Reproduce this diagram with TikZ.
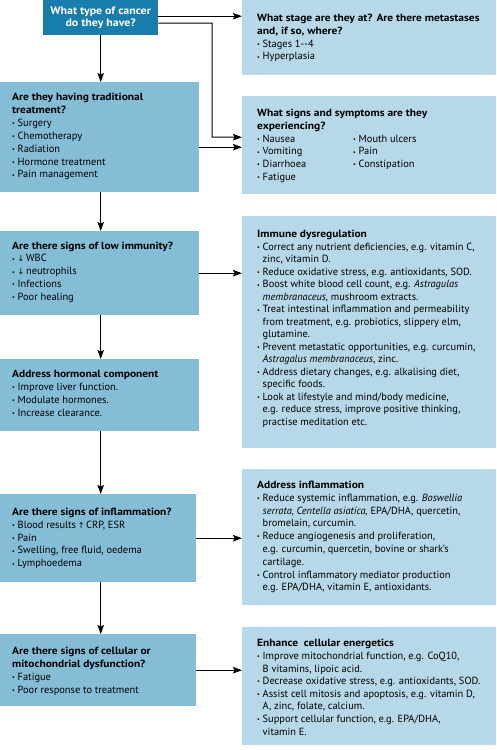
\documentclass[tikz,border=0pt]{standalone}
\usepackage{fontspec}
\setmainfont{PT Sans}[BoldFeatures={FakeStretch=1.1}]
\newfontfamily\arrfont{DejaVu Sans}
\usetikzlibrary{arrows.meta}
\definecolor{topblue}{RGB}{24,124,172}
\definecolor{leftblue}{RGB}{133,189,214}
\definecolor{rightblue}{RGB}{183,216,232}
\newcommand{\bu}{\makebox[5.5pt][l]{\raisebox{0.15ex}{\fontsize{6}{6}\selectfont\textbullet}}}
\newcommand{\ind}{\hspace*{5.5pt}}
\newcommand{\dn}{{\arrfont\fontsize{8}{8}\selectfont ↓}}
\newcommand{\up}{{\arrfont\fontsize{8}{8}\selectfont ↑}}
% width, height, left pad, first baseline, text, baselineskip
\newcommand{\pbox}[6]{\parbox[c][#2][t]{#1}{\fontsize{10.4}{#6}\selectfont\leftskip=#3\relax\rightskip=0pt plus 1fil\relax\parindent=0pt\vspace*{\dimexpr#4-8pt\relax}\rule{0pt}{8pt}#5}}
\begin{document}
\begin{tikzpicture}[x=1pt,y=-1pt,
  panel/.style={inner sep=0pt, anchor=north west},
  lpanel/.style={panel, fill=leftblue},
  rpanel/.style={panel, fill=rightblue},
  arr/.style={line width=1pt, -{Stealth[length=9pt,width=6.5pt,inset=1.5pt]}}]
\useasboundingbox (0,0) rectangle (496,750);

\node[panel, fill=topblue, text=white] (t) at (43,0)
  {\parbox[c][35pt][c]{115pt}{\centering\fontsize{10.8}{12.2}\selectfont\bfseries What type of cancer\\do they have?}};

\node[lpanel] (b2) at (0,82) {\pbox{199pt}{110pt}{12pt}{18.3pt}{\textbf{Are they having traditional}\\\textbf{treatment?}\\\bu Surgery\\\bu Chemotherapy\\\bu Radiation\\\bu Hormone treatment\\\bu Pain management}{12.9pt}};

\node[lpanel] (b3) at (0,231) {\pbox{199pt}{84pt}{12pt}{17.8pt}{\textbf{Are there signs of low immunity?}\\\bu\dn\,WBC\\\bu\dn\,neutrophils\\\bu Infections\\\bu Poor healing}{12.9pt}};

\node[lpanel] (b4) at (0,359) {\pbox{199pt}{72pt}{12pt}{18.6pt}{\textbf{Address hormonal component}\\\bu Improve liver function.\\\bu Modulate hormones.\\\bu Increase clearance.}{12.9pt}};

\node[lpanel] (b5) at (0,494) {\pbox{196pt}{88pt}{12pt}{21pt}{\textbf{Are there signs of inflammation?}\\\bu Blood results\,\up\,CRP, ESR\\\bu Pain\\\bu Swelling, free fluid, oedema\\\bu Lymphoedema}{12.9pt}};

\node[lpanel] (b6) at (0,634) {\pbox{196pt}{72pt}{12pt}{20.3pt}{\textbf{Are there signs of cellular or}\\\textbf{mitochondrial dysfunction?}\\\bu Fatigue\\\bu Poor response to treatment}{12.9pt}};

\node[rpanel] (r1) at (242,0) {\pbox{254pt}{75pt}{15pt}{21.6pt}{\textbf{What stage are they at? Are there metastases}\\\textbf{and, if so, where?}\\\bu Stages 1-{}-4\\\bu Hyperplasia}{12.7pt}};

\node[rpanel] (r2) at (242,96) {\pbox{254pt}{98pt}{15pt}{20.6pt}{\textbf{What signs and symptoms are they}\\\textbf{experiencing?}\\\makebox[96pt][l]{\bu Nausea}\bu Mouth ulcers\\\makebox[96pt][l]{\bu Vomiting}\bu Pain\\\makebox[96pt][l]{\bu Diarrhoea}\bu Constipation\\\bu Fatigue}{12.7pt}};

\node[rpanel] (r3) at (242,216) {\pbox{254pt}{232pt}{15pt}{21.6pt}{\textbf{Immune dysregulation}\\
\bu Correct any nutrient deficiencies, e.g. vitamin C,\\
\ind zinc, vitamin D.\\
\bu Reduce oxidative stress, e.g. antioxidants, SOD.\\
\bu Boost white blood cell count, e.g. \textit{Astragulas}\\
\ind\textit{membranaceus,} mushroom extracts.\\
\bu Treat intestinal inflammation and permeability\\
\ind from treatment, e.g. probiotics, slippery elm,\\
\ind glutamine.\\
\bu Prevent metastatic opportunities, e.g. curcumin,\\
\ind\textit{Astragalus membranaceus}, zinc.\\
\bu Address dietary changes, e.g. alkalising diet,\\
\ind specific foods.\\
\bu Look at lifestyle and mind/body medicine,\\
\ind e.g. reduce stress, improve positive thinking,\\
\ind practise meditation etc.}{12.5pt}};

\node[rpanel] (r4) at (242,469) {\pbox{254pt}{136pt}{15pt}{19.3pt}{\textbf{Address inflammation}\\
\bu Reduce systemic inflammation, e.g. \textit{Boswellia}\\
\ind\textit{serrata, Centella asiatica,} EPA/DHA, quercetin,\\
\ind bromelain, curcumin.\\
\bu Reduce angiogenesis and proliferation,\\
\ind e.g. curcumin, quercetin, bovine or shark’s\\
\ind cartilage.\\
\bu Control inflammatory mediator production\\
\ind e.g. EPA/DHA, vitamin E, antioxidants.}{12.8pt}};

\node[rpanel] (r5) at (242,627) {\pbox{254pt}{118pt}{15pt}{19.6pt}{\textbf{Enhance\ \ cellular energetics}\\
\bu Improve mitochondrial function, e.g. CoQ10,\\
\ind B vitamins, lipoic acid.\\
\bu Decrease oxidative stress, e.g. antioxidants, SOD.\\
\bu Assist cell mitosis and apoptosis, e.g. vitamin D,\\
\ind A, zinc, folate, calcium.\\
\bu Support cellular function, e.g. EPA/DHA,\\
\ind vitamin E.}{12.6pt}};

% connectors
\draw[arr] ([yshift=1.5pt]t.east) -- ([yshift=1.5pt]t.east -| r1.west);
\coordinate (jn) at (212,23);
\draw[arr] ([yshift=-5.5pt]t.east) -- (jn) |- ([yshift=8pt]r2.west);
\draw[arr] ([yshift=-10pt]b2.east) -- ([yshift=-10pt]b2.east -| r2.west);
\draw[arr] (b3.east) -- (b3.east -| r3.west);
\draw[arr] (b5.east) -- (b5.east -| r4.west);
\draw[arr] (b6.east) -- (b6.east -| r5.west);
\draw[arr] (t.south) -- (t.south |- b2.north);
\draw[arr] (b2.south -| t.south) -- (t.south |- b3.north);
\draw[arr] (b3.south -| t.south) -- (t.south |- b4.north);
\draw[arr] (b4.south -| t.south) -- (t.south |- b5.north);
\draw[arr] (b5.south -| t.south) -- (t.south |- b6.north);
\end{tikzpicture}
\end{document}
